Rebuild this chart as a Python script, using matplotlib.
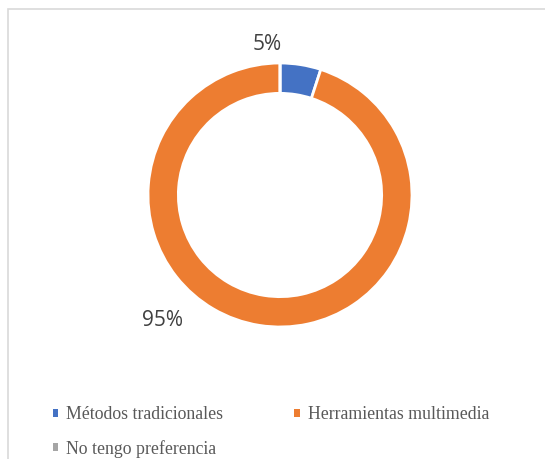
import matplotlib.pyplot as plt
from matplotlib.patches import Rectangle

categorias = ['Métodos tradicionales', 'Herramientas multimedia', 'No tengo preferencia']
valores = [5, 95, 0]
colores = ['#4472C4', '#ED7D31', '#A5A5A5']
etiquetas = ['5%', '95%']

W, H = 545, 459
fig = plt.figure(figsize=(W / 100, H / 100), dpi=100)

# borde del area del grafico
fig.patches.append(Rectangle((8 / W, -0.1), 2, (H - 9) / H + 0.1, transform=fig.transFigure,
                             fill=False, ec='#d9d9d9', lw=1.2))

cx, cy, r = 280, 195, 132
lim = 1.4
size = r * lim
ax = fig.add_axes([(cx - size) / W, (H - cy - size) / H, 2 * size / W, 2 * size / H])

wedges, _ = ax.pie(valores, colors=colores, startangle=90, counterclock=False,
                   radius=1, wedgeprops=dict(width=0.23, edgecolor='white', linewidth=2))
ax.set_xlim(-lim, lim)
ax.set_ylim(-lim, lim)
ax.set_aspect('equal')
ax.axis('off')

# etiquetas de datos
pos = [(-0.1, 1.14), (-0.89, -0.95)]
for t, (x, y) in zip(etiquetas, pos):
    ax.text(x, y, t, ha='center', va='center', fontsize=15, color='#404040',
            family='Open Sans')

orden = [0, 2, 1]
handles = [Rectangle((0, 0), 1, 1, fc=colores[i], ec='none') for i in orden]
fig.legend(handles, [categorias[i] for i in orden], ncol=2,
           loc='center left', bbox_to_anchor=(37 / W, 1 - 432 / H), frameon=False,
           prop={'family': 'Liberation Serif', 'size': 12.8}, labelcolor='#595959',
           handlelength=0.3, handleheight=0.3, handletextpad=0.45, columnspacing=4.0,
           labelspacing=0.92)

fig.savefig('out.png', dpi=100)
